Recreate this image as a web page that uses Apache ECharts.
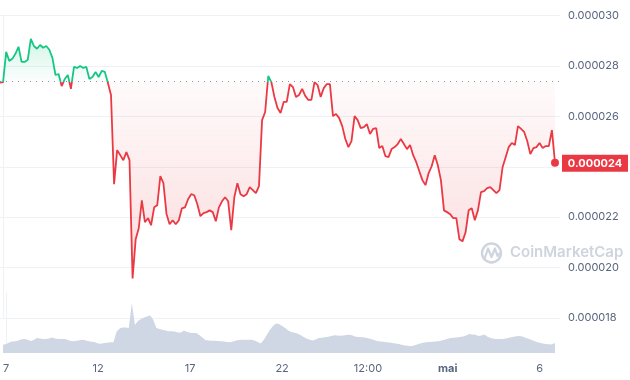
<!DOCTYPE html>
<html><head><meta charset="utf-8">
<script src="https://cdn.jsdelivr.net/npm/echarts@6/dist/echarts.min.js"></script>
<style>html,body{margin:0;padding:0;background:#fff}#c{width:630px;height:380px}</style>
</head><body><div id="c"></div>
<script>
// x unit: hours since 7 April 00:00
const tickHours  = [0, 120, 240, 360, 472, 576, 696];
const tickLabels = ['7', '12', '17', '22', '12:00', 'mai', '6'];
// price values in units of 1e-6
const baseline = 27.376;
const startHour = -4, stepHours = 4;
const price = [
  27.34, 27.36, 28.56, 28.20, 28.28, 28.48, 28.76, 28.16, 28.16, 28.24,
  29.07, 28.79, 28.68, 28.83, 28.72, 28.79, 28.64, 28.32, 27.64, 27.68,
  27.20, 27.48, 27.64, 27.09, 27.96, 27.92, 28.00, 27.92, 27.96, 27.48,
  27.56, 27.76, 27.56, 27.80, 27.76, 27.32, 26.85, 23.31, 24.66, 24.46,
  24.26, 24.58, 24.26, 19.57, 21.12, 21.56, 22.67, 21.80, 21.96, 21.68,
  22.39, 22.47, 23.63, 23.35, 22.13, 21.72, 21.88, 21.72, 21.88, 22.35,
  22.39, 22.71, 22.91, 22.87, 22.51, 22.04, 22.16, 22.20, 22.27, 22.20,
  21.84, 22.39, 22.63, 22.79, 22.63, 21.48, 22.79, 23.35, 22.91, 22.83,
  22.91, 23.19, 23.07, 22.95, 23.23, 25.85, 26.17, 27.60, 27.36, 26.77,
  26.33, 26.13, 26.57, 26.57, 27.28, 27.16, 26.77, 26.85, 27.09, 26.81,
  26.65, 26.65, 27.36, 27.24, 26.77, 27.12, 27.28, 27.28, 26.01, 26.09,
  25.93, 25.61, 25.10, 24.78, 25.02, 26.01, 25.85, 25.53, 25.57, 25.69,
  25.30, 25.50, 25.53, 24.74, 24.82, 24.42, 24.38, 24.70, 24.78, 24.90,
  25.10, 24.90, 24.70, 24.86, 24.46, 24.18, 23.82, 23.47, 23.27, 23.74,
  24.02, 24.46, 24.06, 23.47, 22.27, 22.20, 22.12, 21.96, 21.96, 21.12,
  21.04, 21.40, 22.27, 22.35, 21.88, 22.27, 22.99, 23.03, 23.15, 23.19,
  23.07, 22.95, 23.07, 23.98, 24.38, 24.78, 24.94, 24.86, 25.61, 25.50,
  25.38, 25.02, 24.50, 24.74, 24.78, 24.94, 24.74, 24.82, 24.82, 25.45,
  24.16
];
// volume, relative units
const volume = [
  8.3, 9, 10.5, 11.5, 11.7, 12.5, 13.8, 14, 13.3, 12,
  13, 15, 14.5, 14, 14, 14.5, 15.5, 14.5, 14, 14,
  14, 13.3, 12, 11.8, 12.2, 12.8, 13.3, 12.5, 11.7, 11.2,
  10.7, 9.5, 9.2, 10, 10.3, 10.7, 10.7, 21, 24.5, 25.5,
  25.5, 25, 50, 28, 32, 34, 35.5, 36.5, 37.5, 33,
  25, 24, 23.3, 22.5, 21.7, 21.7, 21.5, 20.5, 20.5, 22.5,
  21, 20.2, 20, 20, 18, 15.5, 13, 12.6, 12.3, 12.2,
  12, 11.7, 11.5, 11, 10.8, 11.5, 12.5, 13, 13.3, 13.3,
  13.3, 13.3, 12.5, 11, 9.5, 13, 18, 23, 27, 29.5,
  29, 27, 25, 22.5, 21, 20.3, 19.5, 18, 16, 14.5,
  13.2, 12.5, 13.5, 15, 15.3, 15.7, 16.3, 17, 17.7, 17.5,
  17.3, 17.5, 18, 18.3, 17.5, 16.3, 16, 15.8, 15.5, 14.8,
  14, 13, 12, 11.5, 11.2, 10.8, 10.5, 10, 9.5, 9,
  8.3, 7.6, 7.2, 6.8, 7.5, 8.6, 9.5, 10.2, 10.8, 11.1,
  11.3, 11.5, 11.8, 12.5, 13.3, 14.2, 15, 15.3, 15.6, 16,
  16.5, 17.5, 19, 18.6, 18.3, 17, 17.5, 18.5, 16.2, 15,
  14.2, 14, 14, 14, 14.4, 15.2, 15.9, 16.5, 17.1, 16.8,
  15.7, 14.6, 13.5, 12.3, 11.1, 10.3, 9.6, 9, 8.7, 8.4,
  10
];

const times = price.map((_, i) => startHour + stepHours * i);
const priceData = times.map((t, i) => [t, price[i]]);
const volData = times.map((t, i) => [t, volume[i]]);
const last = priceData[priceData.length - 1];

const FONT = 'Inter, "Noto Sans", sans-serif';
const GREEN = '#16c784', RED = '#ea3943', LABEL = '#58667e', GRID = '#eff2f5';

const chart = echarts.init(document.getElementById('c'));
chart.setOption({
  animation: false,
  grid: [
    { left: 0, right: 70, top: 15.5, bottom: 62 },
    { left: 0, right: 70, top: 293, bottom: 27 }
  ],
  xAxis: [
    { type: 'value', gridIndex: 0, min: -4, max: 722.5, show: false },
    { type: 'value', gridIndex: 1, min: -4, max: 722.5,
      axisLine: { show: false }, axisTick: { show: false }, splitLine: { show: false },
      axisLabel: {
        customValues: tickHours,
        formatter: v => { const s = tickLabels[tickHours.indexOf(v)]; return s === 'mai' ? '{b|mai}' : s; },
        rich: { b: { fontWeight: 'bold', color: LABEL, fontSize: 11, fontFamily: FONT } },
        color: LABEL, fontSize: 11, fontFamily: FONT, margin: 10
      } }
  ],
  yAxis: [
    { type: 'value', gridIndex: 0, position: 'right', min: 18, max: 30, interval: 2,
      axisLine: { show: true, lineStyle: { color: GRID } }, axisTick: { show: false },
      splitLine: { lineStyle: { color: GRID } },
      axisLabel: { formatter: v => (v * 1e-6).toFixed(6), color: LABEL, fontSize: 11, fontFamily: FONT, margin: 8 } },
    { type: 'value', gridIndex: 1, position: 'right', min: 0, max: 60,
      axisLine: { show: true, lineStyle: { color: GRID } }, axisTick: { show: false },
      axisLabel: { show: false }, splitLine: { show: false } }
  ],
  series: [
    { type: 'line', xAxisIndex: 0, yAxisIndex: 0, data: priceData, symbol: 'none', showSymbol: false, z: 3,
      lineStyle: { width: 1.8, color: RED },
      areaStyle: { origin: baseline, color: 'rgba(234,57,67,0.1)' },
      markLine: { silent: true, symbol: 'none', animation: false, data: [
        { yAxis: baseline, lineStyle: { type: [1, 5], color: '#8a94a6', width: 1 }, label: { show: false } }
      ] },
      markPoint: { silent: true, symbol: 'circle', symbolSize: 8, itemStyle: { color: RED }, label: { show: false },
        data: [{ coord: last }] } },
    { type: 'line', xAxisIndex: 1, yAxisIndex: 1, data: volData, symbol: 'none', showSymbol: false,
      lineStyle: { width: 0 }, areaStyle: { color: '#cfd6e4', opacity: 1 } }
  ]
});

// gradients aligned with the baseline in pixel space, and the last-price tag
const yTop = chart.convertToPixel({ yAxisIndex: 0 }, 29.2);
const yBase = chart.convertToPixel({ yAxisIndex: 0 }, baseline);
const yBot = chart.convertToPixel({ yAxisIndex: 0 }, 19.5);
const yLast = chart.convertToPixel({ yAxisIndex: 0 }, last[1]);
const f = (yBase - yTop) / (yBot - yTop);
const lineGrad = new echarts.graphic.LinearGradient(0, yTop, 0, yBot, [
  { offset: 0, color: GREEN }, { offset: f, color: GREEN },
  { offset: f, color: RED }, { offset: 1, color: RED }], true);
const areaGrad = new echarts.graphic.LinearGradient(0, yTop, 0, yBot, [
  { offset: 0, color: 'rgba(22,199,132,0.28)' }, { offset: f, color: 'rgba(22,199,132,0.02)' },
  { offset: f, color: 'rgba(234,57,67,0.03)' }, { offset: 1, color: 'rgba(234,57,67,0.26)' }], true);
chart.setOption({
  graphic: [
    { type: 'circle', shape: { cx: 491.5, cy: 253, r: 9.5 }, style: { fill: 'none', stroke: '#cfd5de', lineWidth: 2.4 } },
    { type: 'polyline', shape: { points: [[484.5, 259], [488, 248.5], [491.5, 257], [495, 248.5], [497.5, 256], [500, 253]] },
      style: { fill: 'none', stroke: '#cfd5de', lineWidth: 2.2, lineJoin: 'round' } },
    { type: 'text', x: 510, y: 245, style: { text: 'CoinMarketCap', font: '600 15px ' + FONT, fill: '#cfd5de' } },
    { type: 'rect', z: 10, shape: { x: 562, y: yLast - 8, width: 66, height: 17 }, style: { fill: RED } },
    { type: 'text', z: 11, x: 595, y: yLast + 0.5,
      style: { text: (last[1] * 1e-6).toFixed(6), fill: '#fff', font: 'bold 11px ' + FONT, align: 'center', verticalAlign: 'middle' } }
  ],
  series: [{ lineStyle: { color: lineGrad }, areaStyle: { origin: baseline, color: areaGrad } }]
});
</script></body></html>
